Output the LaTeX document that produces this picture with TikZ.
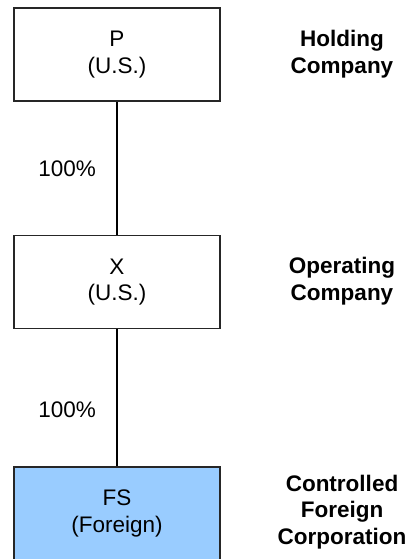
\documentclass[tikz,border=0pt]{standalone}
\usepackage{fontspec}
\setmainfont{Liberation Sans}
\usepackage{tikz}
\usetikzlibrary{positioning}
\definecolor{cfcblue}{HTML}{99CCFF}
\tikzset
{
    entity/.style   = {draw=black!85, line width=1.6pt, align=center, minimum width=206pt, minimum height=93pt, inner sep=0pt, font=\fontsize{22.5}{26.7}\selectfont},
    sidelabel/.style = {align=center, font=\fontsize{22.5}{26.7}\selectfont\bfseries},
    share/.style    = {font=\fontsize{22.5}{26.7}\selectfont}
}
\begin{document}
\begin{tikzpicture}[x=1pt, y=1pt, line width=1.6pt]
    \useasboundingbox (0,0) rectangle (408,-559);
    % ownership chain
    \node [entity] (P) at (117,-54.5) {P\\(U.S.)};
    \node [entity, below=133pt of P] (X) {X\\(U.S.)};
    \node [entity, fill=cfcblue, below=137pt of X] (FS) {FS\\(Foreign)};
    \draw (P) -- node [share, pos=0.5, left=17pt] {100\%} (X);
    \draw (X) -- node [share, pos=0.59, left=17pt] {100\%} (FS);
    % roles
    \node [sidelabel] (hold) at (342,-54.5) {Holding\\Company};
    \node [sidelabel] (oper) at (342,-281) {Operating\\Company};
    \node [sidelabel] (cfc) at (342,-512) {Controlled\\Foreign\\Corporation};
\end{tikzpicture}
\end{document}
